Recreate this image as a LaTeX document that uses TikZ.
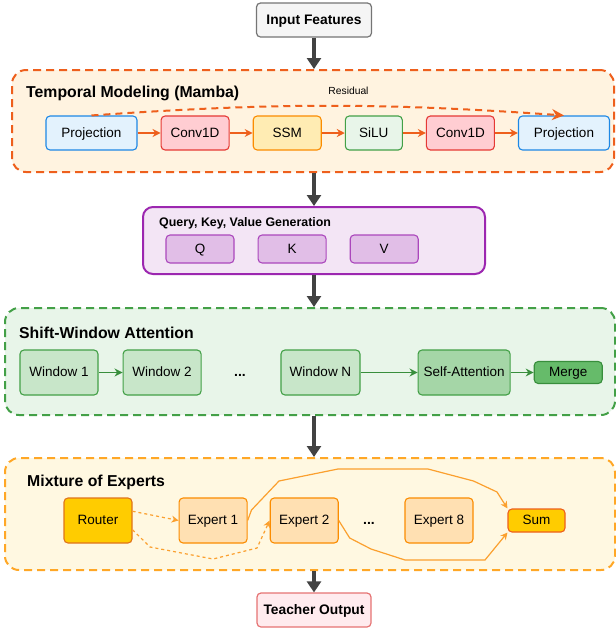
\documentclass[tikz,border=0pt]{standalone}
\usepackage{fontspec}
\setmainfont{Liberation Sans}
\usetikzlibrary{positioning, arrows.meta}
\definecolor{main_arrow}{HTML}{424242}
\definecolor{input_fill}{HTML}{F5F5F5}
\definecolor{input_draw}{HTML}{757575}
\definecolor{mamba_fill}{HTML}{FFF3E0}
\definecolor{mamba_draw}{HTML}{EE5F1C}
\definecolor{proj_fill}{HTML}{E3F2FD}
\definecolor{proj_draw}{HTML}{1E88E5}
\definecolor{conv_fill}{HTML}{FFCDD2}
\definecolor{conv_draw}{HTML}{E53935}
\definecolor{ssm_fill}{HTML}{FFECB3}
\definecolor{ssm_draw}{HTML}{FB8C00}
\definecolor{silu_fill}{HTML}{E8F5E9}
\definecolor{silu_draw}{HTML}{43A047}
\definecolor{qkv_fill}{HTML}{F3E5F5}
\definecolor{qkv_draw}{HTML}{9C27B0}
\definecolor{qkv_box}{HTML}{E1BEE7}
\definecolor{qkv_line}{HTML}{AB47BC}
\definecolor{win_fill}{HTML}{E8F5E9}
\definecolor{win_draw}{HTML}{43A047}
\definecolor{win_box}{HTML}{C8E6C9}
\definecolor{attn_box}{HTML}{A5D6A7}
\definecolor{merge_box}{HTML}{66BB6A}
\definecolor{win_arrow}{HTML}{388E3C}
\definecolor{moe_fill}{HTML}{FFF8E1}
\definecolor{moe_draw}{HTML}{FFA726}
\definecolor{gate_fill}{HTML}{FFCC00}
\definecolor{gate_draw}{HTML}{E0741A}
\definecolor{expert_fill}{HTML}{FFE0B2}
\definecolor{expert_draw}{HTML}{FB8C00}
\definecolor{moe_arrow}{HTML}{FBA02E}
\definecolor{out_fill}{HTML}{FFEBEE}
\definecolor{out_draw}{HTML}{E57373}

\begin{document}
\begin{tikzpicture}[
    x=1pt, y=-1pt,
    >=Stealth,
    font=\fontsize{13.5}{15}\selectfont,
    node distance=23pt,
    block/.style={
        draw,
        rounded corners=4pt,
        align=center,
        line width=1.1pt,
        minimum height=34pt,
        text height=9.6pt,
        text depth=1pt,
        inner sep=2pt
    },
    endpoint/.style={block, line width=1.2pt, font=\fontsize{13.8}{15}\selectfont\bfseries, minimum width=114pt},
    proj/.style={block, fill=proj_fill, draw=proj_draw, minimum width=91pt},
    conv/.style={block, fill=conv_fill, draw=conv_draw, minimum width=68pt},
    ssm/.style={block, fill=ssm_fill, draw=ssm_draw, minimum width=68pt},
    silu/.style={block, fill=silu_fill, draw=silu_draw, minimum width=57pt},
    qkvbox/.style={block, fill=qkv_box, draw=qkv_line, minimum width=68pt, minimum height=28pt},
    window/.style={block, fill=win_box, draw=win_draw, minimum width=78pt, minimum height=45pt},
    expert/.style={block, fill=expert_fill, draw=expert_draw, minimum width=68pt, minimum height=45pt},
    groupbox/.style={
        rounded corners=14pt,
        line width=2pt,
        dash pattern=on 8pt off 5pt,
        inner sep=0pt
    },
    grouptitle/.style={anchor=west, inner sep=0pt, font=\fontsize{15.8}{17}\selectfont\bfseries},
    dots/.style={inner sep=0pt, font=\fontsize{14}{15}\selectfont\bfseries},
    mainarrow/.style={draw=main_arrow, line width=4pt, -{Triangle[length=11pt,width=14pt]}},
    mambaarrow/.style={draw=mamba_draw, line width=1.5pt, -{Stealth[length=8pt,width=8pt]}},
    winarrow/.style={draw=win_arrow, line width=1.3pt, -{Stealth[length=8pt,width=8pt]}},
    moearrow/.style={draw=moe_arrow, line width=1.2pt, -{Stealth[length=7pt,width=7pt]}}
]
\useasboundingbox (0,0) rectangle (616,630);

% group frames
\node[groupbox, fill=mamba_fill, draw=mamba_draw, minimum width=602pt, minimum height=102pt] (temporal) at (313,121) {};
\node[groupbox, fill=qkv_fill, draw=qkv_draw, solid, rounded corners=10pt, minimum width=342pt, minimum height=67pt] (qkv) at (314,240.5) {};
\node[groupbox, fill=win_fill, draw=win_draw, minimum width=610pt, minimum height=107pt] (window) at (310,361.5) {};
\node[groupbox, fill=moe_fill, draw=moe_draw, minimum width=610pt, minimum height=112pt] (moe) at (310,514) {};

\node[grouptitle] (temporal_title) at (26,93) {Temporal Modeling (Mamba)};
\node[grouptitle, font=\fontsize{12.4}{14}\selectfont\bfseries] (qkv_title) at (159,223) {Query, Key, Value Generation};
\node[grouptitle] (window_title) at (19,333) {Shift-Window Attention};
\node[grouptitle] (moe_title) at (27,482) {Mixture of Experts};

% input and output
\node[endpoint, fill=input_fill, draw=input_draw, minimum width=115pt] (input) at (314,20) {Input Features};
\node[endpoint, fill=out_fill, draw=out_draw] (output) at (314,610) {Teacher Output};

% mamba chain
\node[proj] (proj1) at (91.5,133) {Projection};
\node[conv, right=of proj1] (conv1) {Conv1D};
\node[ssm, right=of conv1] (ssm) {SSM};
\node[silu, right=of ssm] (silu) {SiLU};
\node[conv, right=of silu] (conv2) {Conv1D};
\node[proj, right=of conv2] (proj2) {Projection};

\draw[mambaarrow] (proj1) -- (conv1);
\draw[mambaarrow] (conv1) -- (ssm);
\draw[mambaarrow] (ssm) -- (silu);
\draw[mambaarrow] (silu) -- (conv2);
\draw[mambaarrow] (conv2) -- (proj2);
\draw[draw=mamba_draw, line width=2pt, dash pattern=on 7pt off 5pt, -{Stealth[length=12pt,width=11pt]}]
    (proj1.north) to[bend left=4] (proj2.north);
\node[font=\fontsize{10.3}{12}\selectfont, inner sep=0pt] (residual) at (348.5,91) {Residual};

% query, key, value
\node[qkvbox] (q) at (200,249) {Q};
\node[qkvbox, right=of q] (k) {K};
\node[qkvbox, right=of k] (v) {V};

% windows
\node[window] (win1) at (59,372.5) {Window 1};
\node[window, right=24pt of win1] (win2) {Window 2};
\node[dots] (win_dots) at (240,375) {...};
\node[window, minimum width=79pt] (winN) at (320.5,372.5) {Window N};
\node[window, fill=attn_box, minimum width=92pt, right=57pt of winN] (attn) {Self-Attention};
\node[window, fill=merge_box, draw=win_arrow, minimum width=68pt, minimum height=22pt, right=of attn] (merge) {Merge};

\draw[winarrow] (win1) -- (win2);
\draw[winarrow] (winN) -- (attn);
\draw[winarrow] (attn) -- (merge);

% experts
\node[expert, fill=gate_fill, draw=gate_draw] (router) at (98,520.5) {Router};
\node[expert, right=46pt of router] (expert1) {Expert 1};
\node[expert, right=22pt of expert1] (expert2) {Expert 2};
\node[dots] (moe_dots) at (369,523) {...};
\node[expert] (expert8) at (439,520.5) {Expert 8};
\node[block, fill=gate_fill, draw=mamba_draw, minimum width=57pt, minimum height=23pt] (sum) at (536.5,520.5) {Sum};

\draw[moearrow, dashed] (router.15) -- (expert1.west);
\draw[moearrow, dashed] (router.-15) -- (150,547) -- (213,559) -- (257,548) -- (expert2.west);
\draw[moearrow] (expert1.east) -- (251.5,510) -- (279,481) -- (338,469) -- (428,469) -- (473.5,481) -- (497,492) -- (sum.north west);
\draw[moearrow] (expert2.east) -- (349.7,538) -- (371,549) -- (405,560) -- (485,560) -- (sum.south west);

% main flow
\draw[mainarrow] (input.south) -- (input.south |- temporal.north);
\draw[mainarrow] (input.south |- temporal.south) -- (qkv.north);
\draw[mainarrow] (qkv.south) -- (qkv.south |- window.north);
\draw[mainarrow] (qkv.south |- window.south) -- (qkv.south |- moe.north);
\draw[mainarrow] (qkv.south |- moe.south) -- (output.north);

\end{tikzpicture}
\end{document}
